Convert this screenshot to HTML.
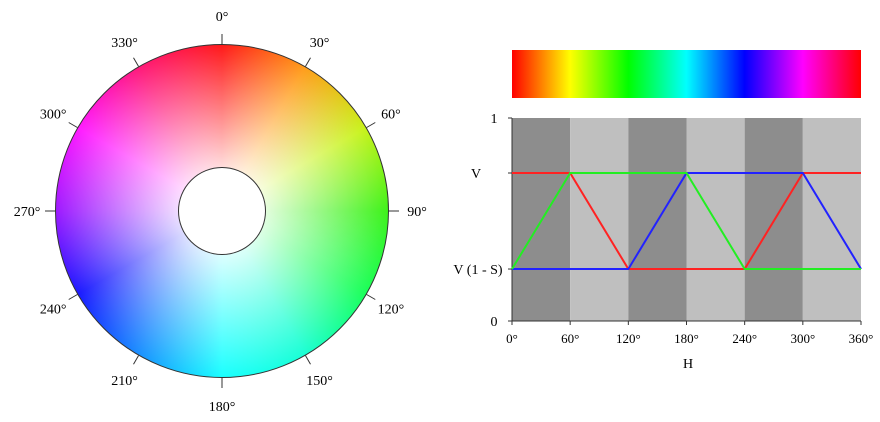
<!DOCTYPE html>
<html><head><meta charset="utf-8"><style>
body{margin:0;background:#fff;width:880px;height:422px;overflow:hidden;position:relative;font-family:"Liberation Serif",serif}
#wheel{position:absolute;left:55px;top:44px;width:334px;height:334px;border-radius:50%;
background:radial-gradient(circle closest-side,#fff 0%,rgba(255,255,255,0.85) 26%,rgba(255,255,255,0) 100%),conic-gradient(#ff1a1a,#ff9d1a,#c8f21a,#3ef21a,#1aff5a,#1affd4,#1affff,#1a90ff,#1a1aff,#9d1aff,#ff1aff,#ff1a7a,#ff1a1a);
box-sizing:border-box;border:1px solid #333}
#hole{position:absolute;left:178px;top:167px;width:88px;height:88px;border-radius:50%;background:#fff;border:1px solid #333;box-sizing:border-box}
#spec{position:absolute;left:512px;top:50px;width:349px;height:48px;background:linear-gradient(to right,#f00,#ff0 16.67%,#0f0 33.33%,#0ff 50%,#00f 66.67%,#f0f 83.33%,#f00)}
svg{position:absolute;left:0;top:0}
</style></head><body>
<div id="wheel"></div>
<div id="hole"></div>
<div id="spec"></div>
<svg id="s" width="880" height="422"></svg>
<script>
const hueTicks=[0,60,120,180,240,300,360];
const hues=[0,60,120,180,240,300,360];
const redLevel=[1,1,0,0,0,1,1];
const greenLevel=[0,1,1,1,0,0,0];
const blueLevel=[0,0,0,1,1,1,0];
const vHigh=0.729, vLow=0.256;
const wheelTicks=[0,30,60,90,120,150,180,210,240,270,300,330];
const ns="http://www.w3.org/2000/svg",S=document.getElementById('s');
const X=h=>512+h/360*349, Y=v=>321-v*203;
function el(t,a,txt){const e=document.createElementNS(ns,t);for(const k in a)e.setAttribute(k,a[k]);if(txt!=null)e.textContent=txt;S.appendChild(e);return e;}
// bands
for(let i=0;i<6;i++){const r=el('rect',{x:X(i*60),y:118,width:X(60)-X(0),height:203,fill:i%2?'#bfbfbf':'#8d8d8d'});

}
// axes
el('line',{x1:512,y1:118,x2:512,y2:321,stroke:'#333','stroke-width':1});
el('line',{x1:512,y1:321,x2:861,y2:321,stroke:'#333','stroke-width':1});
[[1,'1'],[vHigh,'V'],[vLow,'V (1 - S)'],[0,'0']].forEach(([v,l])=>{
el('line',{x1:508,y1:Y(v),x2:512,y2:Y(v),stroke:'#333'});
const t=el('text',{x:l.length>1?478:(l=='V'?476:500),y:Y(v)+5,'font-size':14,'text-anchor':'middle'},l);
if(l.length==1&&l!='V')t.setAttribute('x',494);

});
hueTicks.forEach(h=>{el('line',{x1:X(h),y1:321,x2:X(h),y2:325,stroke:'#333'});
const t=el('text',{x:X(h),y:343,'font-size':13,'text-anchor':'middle'},h+'°');

});
const ht=el('text',{x:688,y:368,'font-size':14,'text-anchor':'middle'},'H');


function series(arr,col,name){const p=el('polyline',{points:hues.map((h,i)=>X(h)+','+Y(arr[i]?vHigh:vLow)).join(' '),fill:'none',stroke:col,'stroke-width':2});

}
series(redLevel,'#f22','red-line');series(blueLevel,'#22f','blue-line');series(greenLevel,'#2e2','green-line');
// wheel ticks
const cx=222,cy=211;
wheelTicks.forEach(a=>{const r=a*Math.PI/180,sx=Math.sin(r),cy_=-Math.cos(r);
el('line',{x1:cx+167*sx,y1:cy+167*cy_,x2:cx+177*sx,y2:cy+177*cy_,stroke:'#333'});
const t=el('text',{x:cx+195*sx,y:cy+195*cy_+5,'font-size':14,'text-anchor':'middle'},a+'°');

});
</script>
</body></html>
